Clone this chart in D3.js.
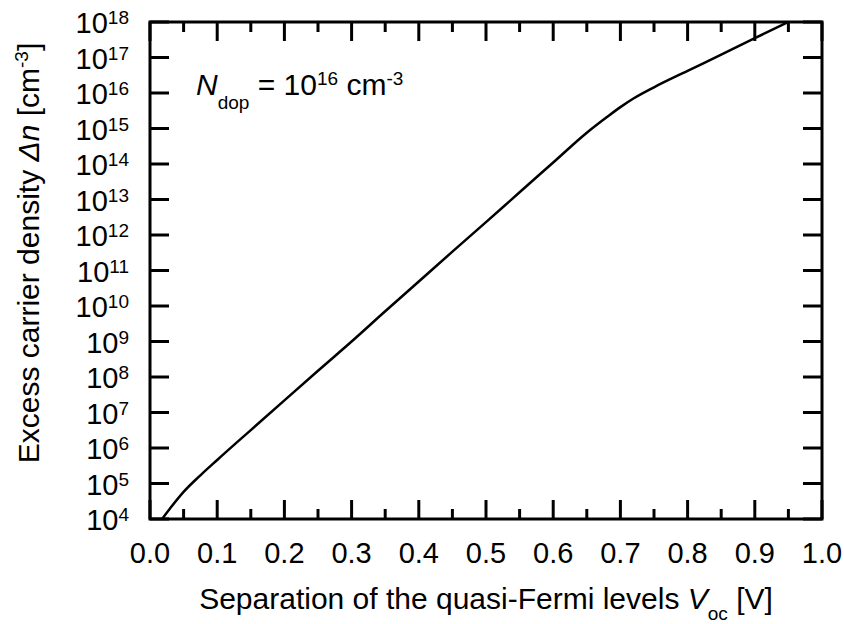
<!DOCTYPE html>
<html>
<head>
<meta charset="utf-8">
<script src="https://cdn.jsdelivr.net/npm/d3@7"></script>
<style>
  body { margin: 0; background: #fff; }
  svg text { font-family: "Liberation Sans", Arial, sans-serif; fill: #000; }
</style>
</head>
<body>
<svg id="chart" width="844" height="624"></svg>
<script>
// Voc [V] vs excess carrier density [cm^-3]
const voc = [0.018, 0.03, 0.05, 0.075, 0.1, 0.15, 0.2, 0.25, 0.3, 0.35, 0.4, 0.45, 0.5, 0.55, 0.6,
             0.65, 0.68, 0.7, 0.72, 0.75, 0.8, 0.85, 0.9, 0.95];
const deltaN = [1.0e4, 2.0e4, 5.8e4, 1.7e5, 4.6e5, 3.2e6, 2.2e7, 1.5e8, 1.0e9, 7.1e9, 4.9e10, 3.4e11,
                2.3e12, 1.6e13, 1.1e14, 7.6e14, 2.1e15, 4.0e15, 7.1e15, 1.45e16, 4.2e16, 1.2e17, 3.5e17, 1.0e18];
const xTicks = [0, 0.1, 0.2, 0.3, 0.4, 0.5, 0.6, 0.7, 0.8, 0.9, 1.0];
const xMinorTicks = [0.05, 0.15, 0.25, 0.35, 0.45, 0.55, 0.65, 0.75, 0.85, 0.95];
const yExponents = [4, 5, 6, 7, 8, 9, 10, 11, 12, 13, 14, 15, 16, 17, 18];

const svg = d3.select("#chart");
const margin = { top: 22, right: 22, bottom: 105, left: 150 };
const width = 844 - margin.left - margin.right;
const height = 624 - margin.top - margin.bottom;

const x = d3.scaleLinear().domain([0, 1]).range([0, width]);
const y = d3.scaleLog().domain([1e4, 1e18]).range([height, 0]);

const g = svg.append("g").attr("transform", `translate(${margin.left},${margin.top})`);

const majorLen = 19, minorLen = 10;

// ticks, drawn inward on all four sides
const tickG = g.append("g").attr("stroke", "#000").attr("stroke-width", 3);
xTicks.forEach(v => {
  tickG.append("line").attr("x1", x(v)).attr("x2", x(v)).attr("y1", height).attr("y2", height - majorLen);
  tickG.append("line").attr("x1", x(v)).attr("x2", x(v)).attr("y1", 0).attr("y2", majorLen);
});
xMinorTicks.forEach(v => {
  tickG.append("line").attr("x1", x(v)).attr("x2", x(v)).attr("y1", height).attr("y2", height - minorLen);
  tickG.append("line").attr("x1", x(v)).attr("x2", x(v)).attr("y1", 0).attr("y2", minorLen);
});
yExponents.forEach(e => {
  const yy = y(Math.pow(10, e));
  tickG.append("line").attr("x1", 0).attr("x2", majorLen).attr("y1", yy).attr("y2", yy);
  tickG.append("line").attr("x1", width).attr("x2", width - majorLen).attr("y1", yy).attr("y2", yy);
});

// frame
g.append("rect")
  .attr("width", width).attr("height", height)
  .attr("fill", "none").attr("stroke", "#000").attr("stroke-width", 3);

// x tick labels
g.selectAll(".xlab").data(xTicks).join("text")
  .attr("class", "xlab")
  .attr("x", d => x(d)).attr("y", height + 44)
  .attr("text-anchor", "middle")
  .style("font-size", "29px")
  .text(d => d.toFixed(1));

// y tick labels 10^n
const ylab = g.selectAll(".ylab").data(yExponents).join("text")
  .attr("class", "ylab")
  .attr("x", -21).attr("y", d => y(Math.pow(10, d)) + 11)
  .attr("text-anchor", "end")
  .style("font-size", "29px");
ylab.append("tspan").text("10");
ylab.append("tspan").attr("dy", -9).style("font-size", "19px").text(d => d);

// curve
const line = d3.line()
  .x((d, i) => x(voc[i]))
  .y(d => y(d))
  .curve(d3.curveMonotoneX);

g.append("path")
  .datum(deltaN)
  .attr("d", line)
  .attr("fill", "none")
  .attr("stroke", "#000")
  .attr("stroke-width", 2.5);

// annotation
const note = g.append("text")
  .attr("x", 46).attr("y", 73)
  .style("font-size", "30px");
note.append("tspan").style("font-style", "italic").text("N");
note.append("tspan").attr("dy", 14).style("font-size", "19px").text("dop");
note.append("tspan").attr("dy", -14).text(" = 10");
note.append("tspan").attr("dy", -10).style("font-size", "19px").text("16");
note.append("tspan").attr("dy", 10).text(" cm");
note.append("tspan").attr("dy", -10).style("font-size", "19px").text("-3");

// x axis title
const xt = svg.append("text")
  .attr("x", margin.left + width / 2).attr("y", 609)
  .attr("text-anchor", "middle")
  .style("font-size", "30px");
xt.append("tspan").text("Separation of the quasi-Fermi levels ");
xt.append("tspan").style("font-style", "italic").text("V");
xt.append("tspan").attr("dy", 11).style("font-size", "19px").text("oc");
xt.append("tspan").attr("dy", -11).text(" [V]");

// y axis title
const yt = svg.append("text")
  .attr("transform", "translate(39,253) rotate(-90)")
  .attr("text-anchor", "middle")
  .style("font-size", "30px");
yt.append("tspan").text("Excess carrier density ");
yt.append("tspan").style("font-style", "italic").text("\u0394n");
yt.append("tspan").text(" [cm");
yt.append("tspan").attr("dy", -11).style("font-size", "19px").text("-3");
yt.append("tspan").attr("dy", 11).text("]");
</script>
</body>
</html>
